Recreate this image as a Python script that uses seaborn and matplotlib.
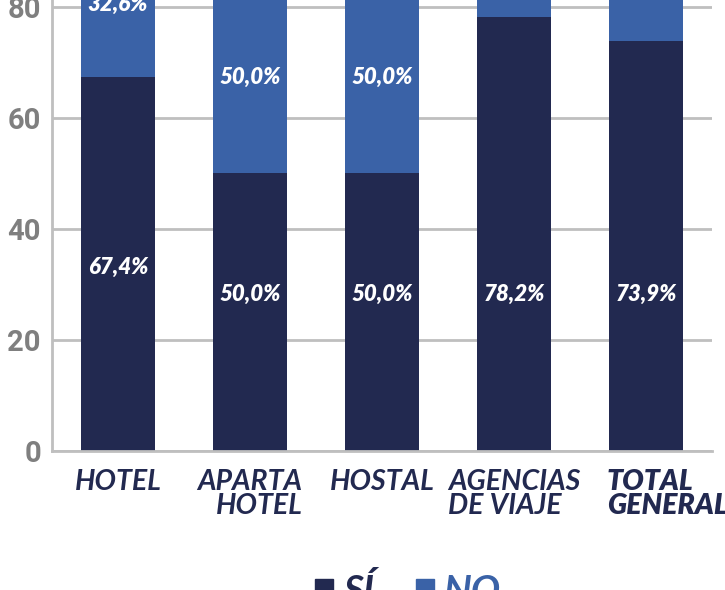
import matplotlib
matplotlib.use("Agg")
import matplotlib.pyplot as plt
from matplotlib.transforms import ScaledTranslation
from matplotlib.patches import Patch
import seaborn as sns
import pandas as pd

# Datos
categorias = ["HOTEL", "APARTA\nHOTEL", "HOSTAL", "AGENCIAS\nDE VIAJE", "TOTAL\nGENERAL"]
si = [67.4, 50.0, 50.0, 78.2, 73.9]
no = [32.6, 50.0, 50.0, 21.8, 26.1]
y_ticks = [0, 20, 40, 60, 80, 100]

# posiciones de las etiquetas (como en el original)
si_label_y = [33.0, 28.3, 28.3, 28.3, 28.3]
no_label_y = [80.5, 67.4, 67.4, 89.1, 87.0]

color_si = "#222950"
color_no = "#3A62A7"
gris = "#BFBFBF"

df = pd.DataFrame({"cat": categorias, "si": si, "no": no})
df["total"] = df["si"] + df["no"]

sns.set_style("white")
plt.rcParams["font.family"] = ["Lato", "DejaVu Sans"]

fig = plt.figure(figsize=(7.25, 5.9), dpi=100)
ax = fig.add_axes([52 / 725, 139 / 590, 660 / 725, 555 / 590])

sns.barplot(data=df, x="cat", y="total", color=color_no, width=0.56,
            saturation=1, linewidth=0, ax=ax)
sns.barplot(data=df, x="cat", y="si", color=color_si, width=0.56,
            saturation=1, linewidth=0, ax=ax)

def fmt(v):
    return f"{v:.1f}%".replace(".", ",")

for i in range(len(categorias)):
    ax.text(i, si_label_y[i], fmt(si[i]), ha="center", va="center", color="white",
            fontsize=16, fontweight="heavy", fontstyle="italic")
    ax.text(i, no_label_y[i], fmt(no[i]), ha="center", va="center", color="white",
            fontsize=16, fontweight="heavy", fontstyle="italic")

ax.set_xlim(-0.5, 4.5)
ax.set_ylim(0, 100)
ax.set_xlabel("")
ax.set_ylabel("")

# rejilla y ejes
ax.set_axisbelow(True)
ax.yaxis.grid(True, color=gris, linewidth=2)
for s in ["top", "right"]:
    ax.spines[s].set_visible(False)
for s in ["left", "bottom"]:
    ax.spines[s].set_color(gris)
    ax.spines[s].set_linewidth(2)

ax.set_yticks(y_ticks)
ax.set_yticklabels([str(t) for t in y_ticks], family=["Roboto", "DejaVu Sans"],
                   fontsize=21, fontweight="bold", color="#7F7F7F")
ax.tick_params(axis="y", length=0, pad=8)

ax.set_xticks(range(len(categorias)))
ax.set_xticks([0.5, 1.5, 2.5, 3.5, 4.5], minor=True)
ax.tick_params(axis="x", which="major", length=0, pad=13)
ax.tick_params(axis="x", which="minor", direction="in", length=10, width=2, color="black")
ax.set_xticklabels(categorias, fontsize=20.5, fontweight="bold", fontstyle="italic",
                   color=color_si, linespacing=0.88, va="top")

labels = ax.get_xticklabels()
labels[1].set_multialignment("right")
labels[3].set_multialignment("left")
labels[4].set_multialignment("left")
labels[4].set_ha("left")
labels[4].set_fontweight("heavy")
labels[4].set_transform(labels[4].get_transform() +
                        ScaledTranslation(-39 / 100, 0, fig.dpi_scale_trans))

# leyenda
handles = [Patch(color=color_si, label="SÍ"), Patch(color=color_no, label="NO")]
leg = fig.legend(handles=handles, loc="upper left", bbox_to_anchor=(296 / 725, 36 / 590),
                 ncol=2, frameon=False, handlelength=0.45, handleheight=0.45,
                 handletextpad=0.25, columnspacing=1.1, borderpad=0,
                 prop={"size": 28, "weight": "bold", "style": "italic"})
for t, c in zip(leg.get_texts(), [color_si, color_no]):
    t.set_color(c)

fig.savefig("out.png", dpi=100)
